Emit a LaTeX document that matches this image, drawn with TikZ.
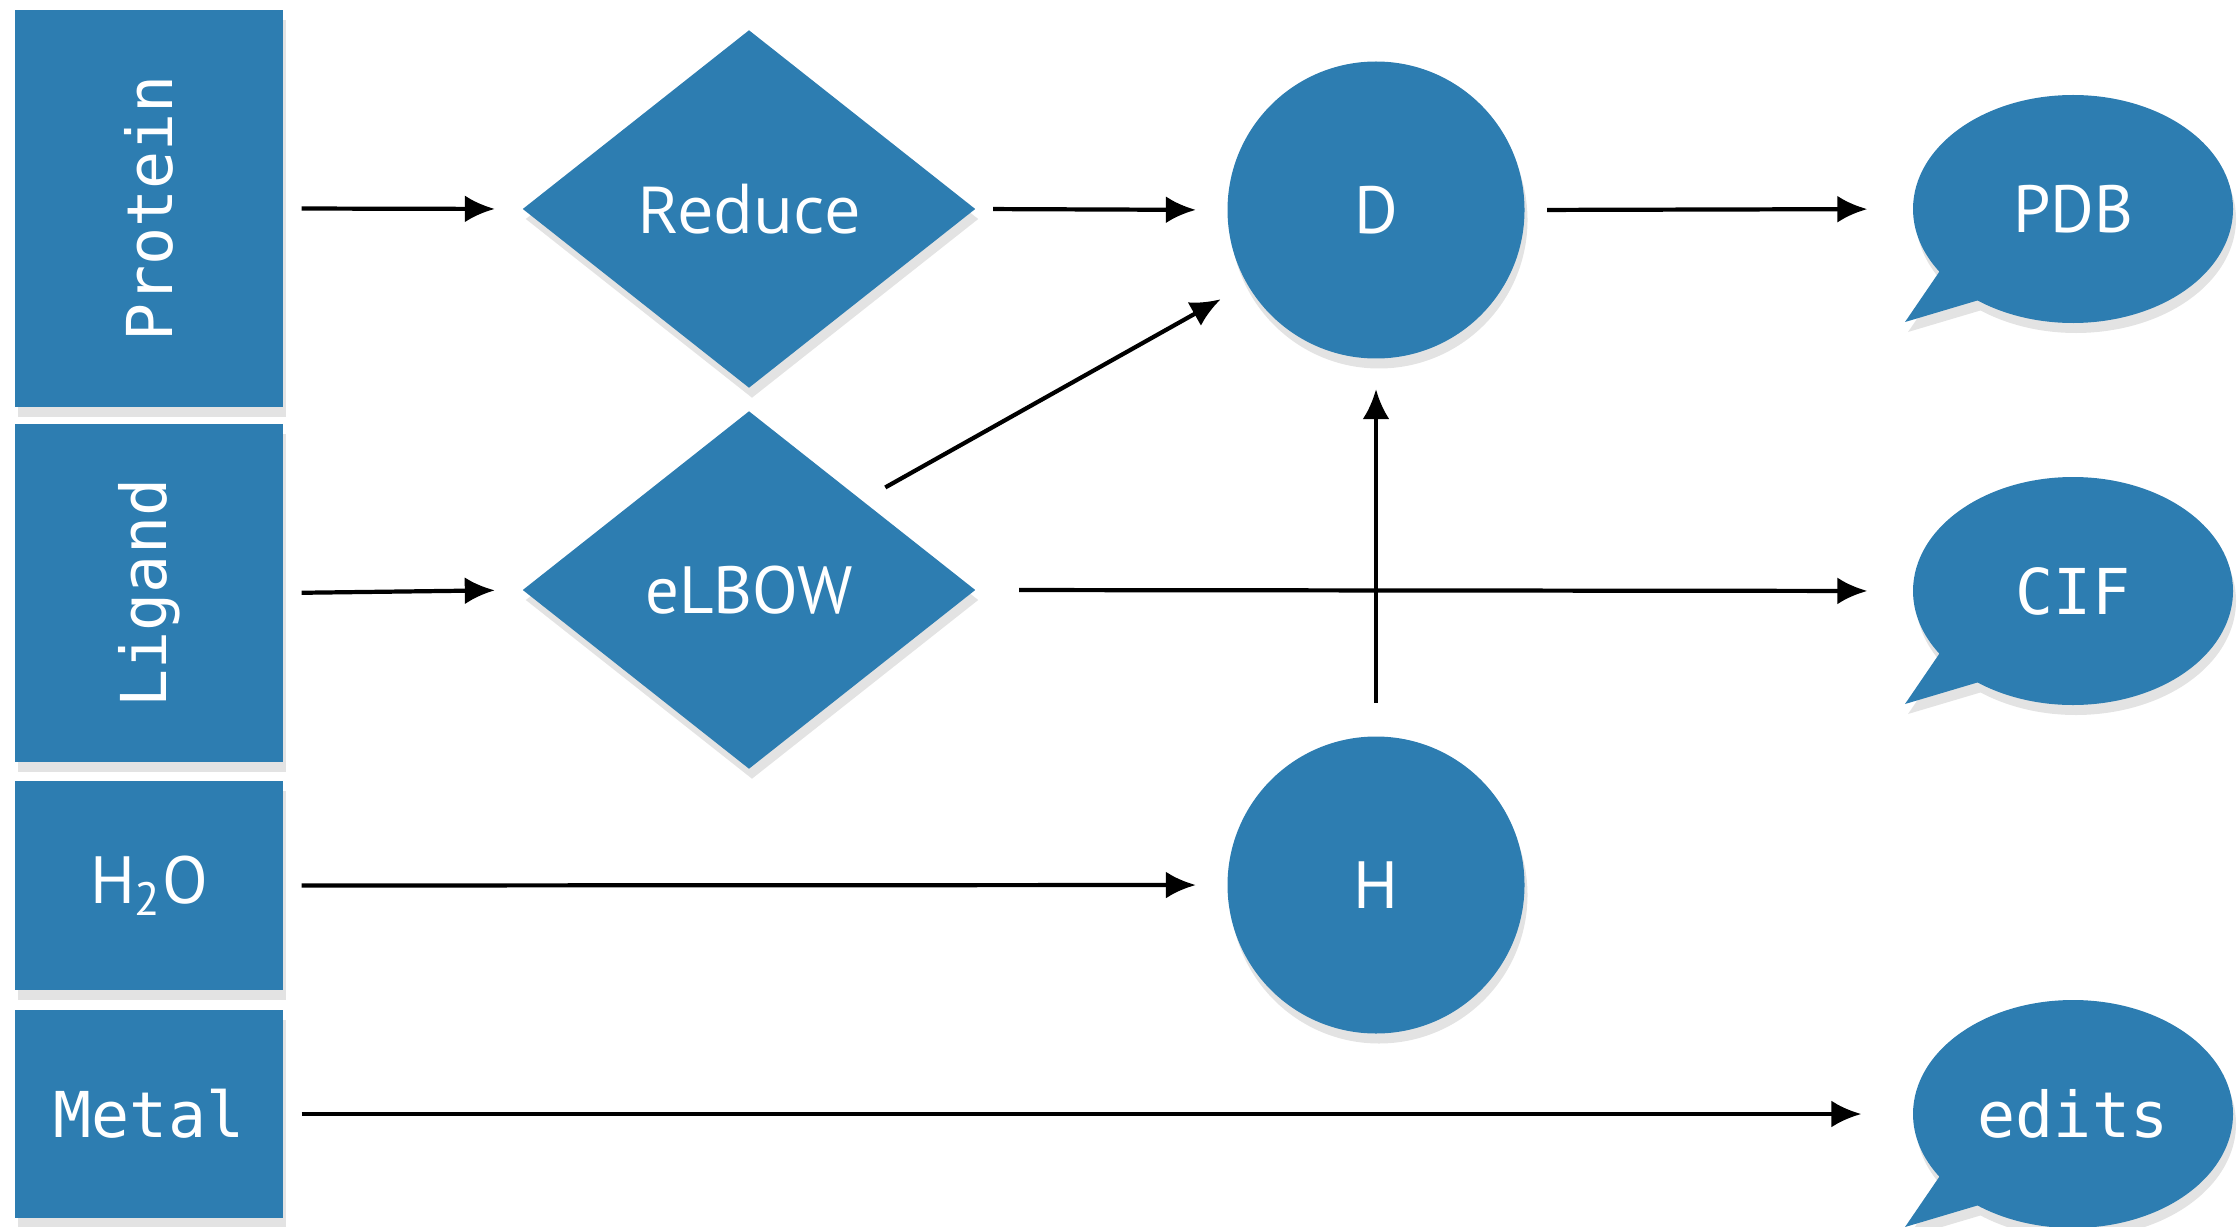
\documentclass[tikz,border=0pt]{standalone}
\usepackage{fontspec}
\usepackage{tikz}
\usetikzlibrary{shapes.geometric}
\usetikzlibrary{shapes.callouts}
\usetikzlibrary{arrows.meta}
\usetikzlibrary{shadows}
\newfontfamily\monofont{DejaVu Sans Mono}
\newfontfamily\plainfont{PT Sans}
\newfontfamily\reducefont{Open Sans}
\definecolor{FELT-BLUE}{RGB}{45,125,177}

\begin{document}
\begin{tikzpicture}[every path/.style={>={Latex[length=0.3cm,width=0.27cm]}},
		felt/.style={fill=FELT-BLUE,text=white,inner sep=0pt,
			drop shadow={shadow xshift=0.3mm,shadow yshift=-1mm,opacity=0.22}},
		inbox/.style={felt,rectangle,minimum width=2.68cm,font=\monofont\fontsize{18}{20}\selectfont},
		tool/.style={felt,diamond,minimum width=4.53cm,minimum height=3.58cm,font=\plainfont\fontsize{19}{21}\selectfont},
		hub/.style={felt,circle,minimum size=2.97cm,font=\plainfont\fontsize{19}{21}\selectfont},
		bubble/.style={felt,ellipse callout,minimum width=3.2cm,minimum height=2.28cm,
			callout pointer arc=20,font=\plainfont\fontsize{19}{21}\selectfont},
		flow/.style={->,line width=1.2pt}]
			\useasboundingbox (0,0) rectangle (22.38,12.26);

			% draw inputs
			\node (protein) at (1.49,10.175) [inbox,minimum height=3.97cm] {\rotatebox{90}{Protein}};
			\node (ligand) at (1.49,6.33) [inbox,minimum height=3.38cm] {\rotatebox{90}{Ligand}};
			\node (water) at (1.49,3.405) [inbox,minimum height=2.09cm,font=\plainfont\fontsize{19}{21}\selectfont] {H\textsubscript{2}O};
			\node (metal) at (1.49,1.12) [inbox,minimum height=2.08cm] {Metal};

			% draw tools
			\node (reduce) at (7.49,10.17) [tool,font=\reducefont\fontsize{18.5}{21}\selectfont] {Reduce};
			\node (elbow) at (7.49,6.36) [tool] {eLBOW};
			\node (D) at (13.76,10.16) [hub] {D};
			\node (H) at (13.76,3.41) [hub] {H};

			% draw outputs
			\node (PDB) at (20.73,10.17) [bubble,callout absolute pointer={(19.05,9.04)}] {PDB};
			\node (CIF) at (20.73,6.35) [bubble,callout absolute pointer={(19.05,5.22)},
				font=\monofont\fontsize{18}{20}\selectfont] {CIF};
			\node (edits) at (20.73,1.12) [bubble,callout absolute pointer={(19.05,-0.01)},
				font=\monofont\fontsize{18}{20}\selectfont] {edits};

			% draw arrows
			\draw[flow,shorten <=0.18cm,shorten >=0.27cm] (protein.east) -- (reduce.west);
			\draw[flow,shorten <=0.17cm,shorten >=0.31cm] (reduce.east) -- (D.west);
			\draw[flow,shorten <=0.22cm,shorten >=0.45cm] (D.east) -- (PDB.west);
			\draw[flow,shorten <=0.26cm,shorten >=0.3cm] (elbow.north east) -- (D.210);
			\draw[flow,shorten <=0.18cm,shorten >=0.27cm] (ligand.east) -- (elbow.west);
			\draw[flow,shorten <=0.43cm,shorten >=0.45cm] (elbow.east) -- (CIF.west);
			\draw[flow,shorten <=0.33cm,shorten >=0.3cm] (H.north) -- (D.south);
			\draw[flow,shorten <=0.18cm,shorten >=0.31cm] (water.east) -- (H.west);
			\draw[flow,shorten <=0.18cm,shorten >=0.51cm] (metal.east) -- (edits.west);
		\end{tikzpicture}
\end{document}
